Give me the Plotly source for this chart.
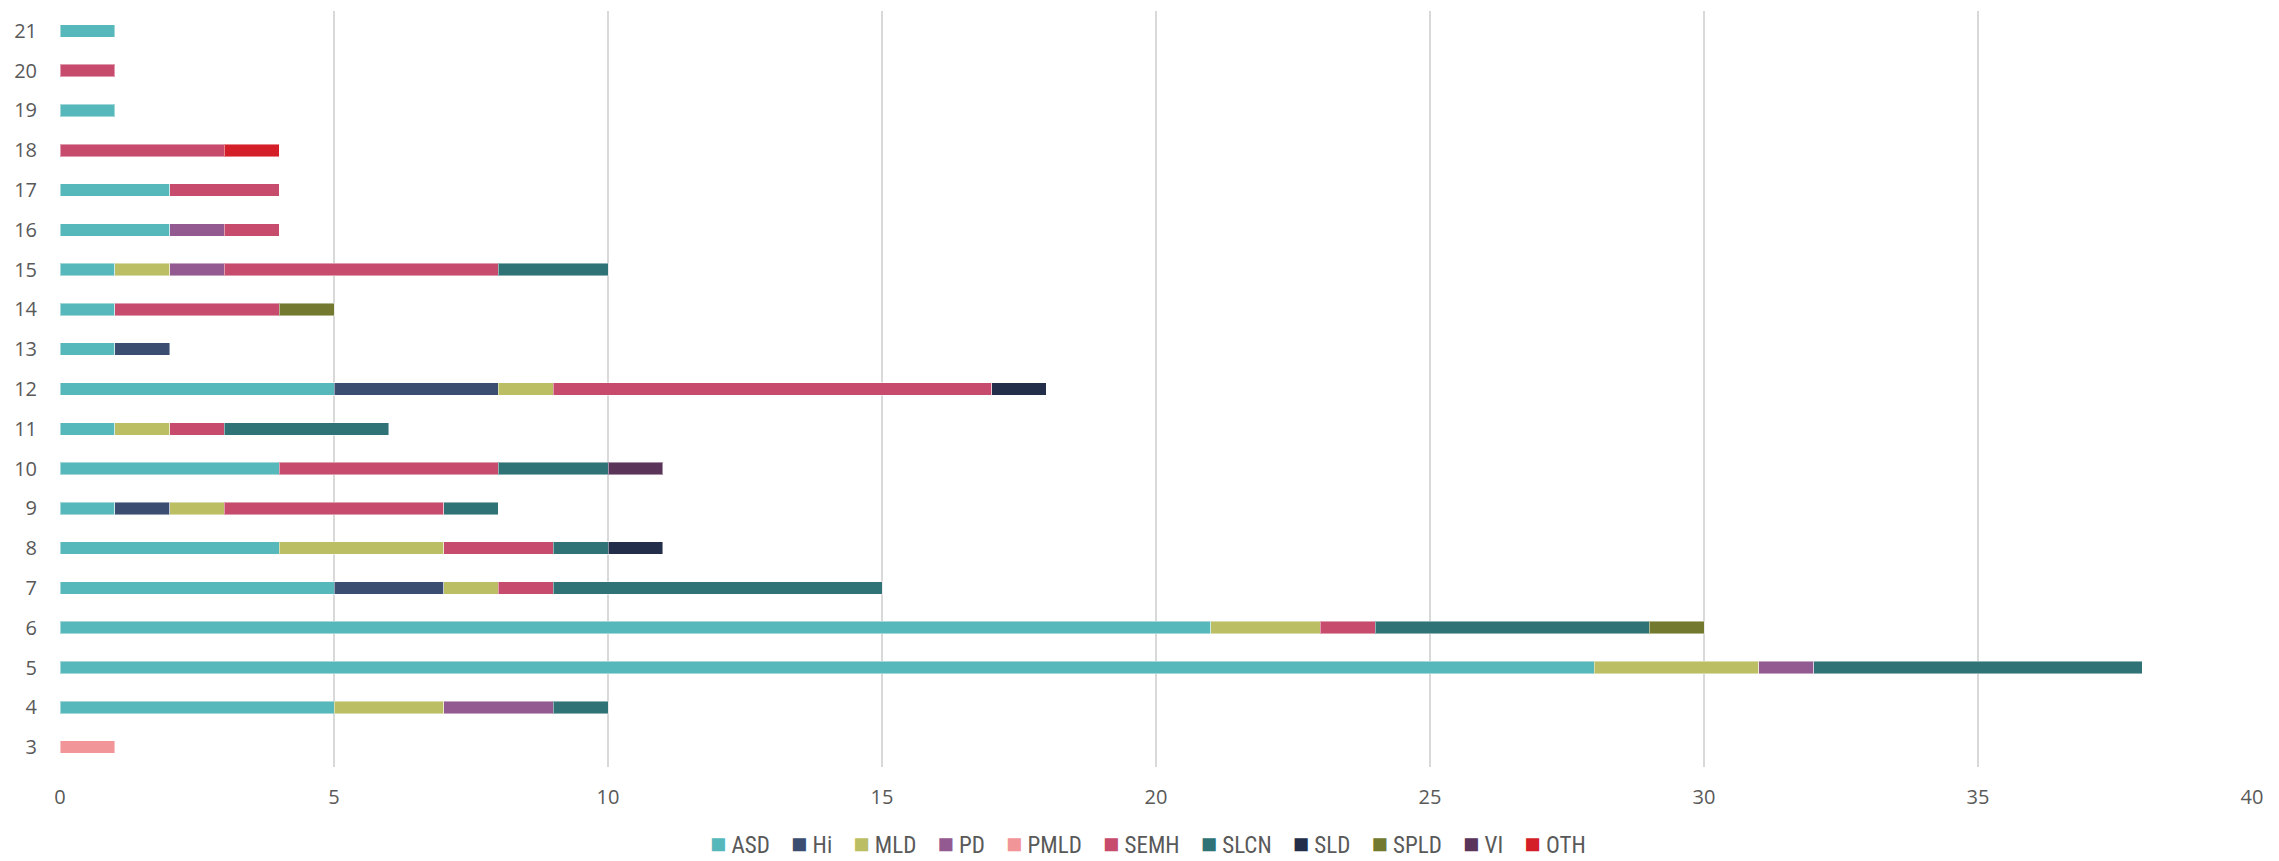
import plotly.graph_objects as go

categories = [str(i) for i in range(3, 22)]  # 3 .. 21 (bottom to top)

series_names = ["ASD", "Hi", "MLD", "PD", "PMLD", "SEMH", "SLCN", "SLD", "SPLD", "VI", "OTH"]
series_colors = ["#57B8BC", "#3B4E72", "#BBBE63", "#935A92", "#F29599", "#C64B6C",
                 "#2F7377", "#232F4A", "#737A2F", "#5A3459", "#D41E28"]

#          3  4  5   6  7  8  9 10 11 12 13 14 15 16 17 18 19 20 21
ASD  = [0, 5, 28, 21, 5, 4, 1, 4, 1, 5, 1, 1, 1, 2, 2, 0, 1, 0, 1]
Hi   = [0, 0, 0,  0,  2, 0, 1, 0, 0, 3, 1, 0, 0, 0, 0, 0, 0, 0, 0]
MLD  = [0, 2, 3,  2,  1, 3, 1, 0, 1, 1, 0, 0, 1, 0, 0, 0, 0, 0, 0]
PD   = [0, 2, 1,  0,  0, 0, 0, 0, 0, 0, 0, 0, 1, 1, 0, 0, 0, 0, 0]
PMLD = [1, 0, 0,  0,  0, 0, 0, 0, 0, 0, 0, 0, 0, 0, 0, 0, 0, 0, 0]
SEMH = [0, 0, 0,  1,  1, 2, 4, 4, 1, 8, 0, 3, 5, 1, 2, 3, 0, 1, 0]
SLCN = [0, 1, 6,  5,  6, 1, 1, 2, 3, 0, 0, 0, 2, 0, 0, 0, 0, 0, 0]
SLD  = [0, 0, 0,  0,  0, 1, 0, 0, 0, 1, 0, 0, 0, 0, 0, 0, 0, 0, 0]
SPLD = [0, 0, 0,  1,  0, 0, 0, 0, 0, 0, 0, 1, 0, 0, 0, 0, 0, 0, 0]
VI   = [0, 0, 0,  0,  0, 0, 0, 1, 0, 0, 0, 0, 0, 0, 0, 0, 0, 0, 0]
OTH  = [0, 0, 0,  0,  0, 0, 0, 0, 0, 0, 0, 0, 0, 0, 0, 1, 0, 0, 0]

x_ticks = [0, 5, 10, 15, 20, 25, 30, 35, 40]

series_values = [ASD, Hi, MLD, PD, PMLD, SEMH, SLCN, SLD, SPLD, VI, OTH]

fig = go.Figure()
for name, color, vals in zip(series_names, series_colors, series_values):
    fig.add_trace(go.Bar(
        y=categories,
        x=[v if v else None for v in vals],
        name=name,
        orientation="h",
        marker=dict(color=color, line=dict(color="rgba(255,255,255,0.45)", width=1)),
        showlegend=False,
    ))

# custom compact legend (Excel-style)
legend_parts = []
for name, color in zip(series_names, series_colors):
    legend_parts.append(
        f"<span style='color:{color};font-size:27px'>■</span> {name}"
    )
legend_text = "&nbsp;&nbsp;&nbsp;&nbsp;".join(legend_parts)

fig.add_annotation(
    text=legend_text, xref="paper", yref="paper",
    x=(1148 - 60) / 2192, y=-(861 - 767) / 756,
    xanchor="center", yanchor="bottom", showarrow=False, borderpad=0,
    font=dict(family="Liberation Sans Narrow, Roboto Condensed, Open Sans, sans-serif",
              size=23, color="#595959"),
)

axis_font = dict(family="Open Sans, sans-serif", size=20, color="#595959")

fig.update_layout(
    barmode="stack",
    bargap=0.686,
    width=2279, height=861,
    margin=dict(l=60, r=27, t=11, b=94),
    plot_bgcolor="white", paper_bgcolor="white",
    xaxis=dict(
        range=[0, 40], tickvals=x_ticks, showgrid=True, gridcolor="#D9D9D9", gridwidth=1.5,
        zeroline=False, showline=False, tickfont=axis_font, ticks="", ticklabelstandoff=16,
        fixedrange=True,
    ),
    yaxis=dict(
        type="category", categoryorder="array", categoryarray=categories,
        range=[-0.5, len(categories) - 0.5], showgrid=False, zeroline=False, showline=False,
        tickfont=axis_font, ticks="", ticklabelstandoff=22,
    ),
)

fig.write_html("out.html")
